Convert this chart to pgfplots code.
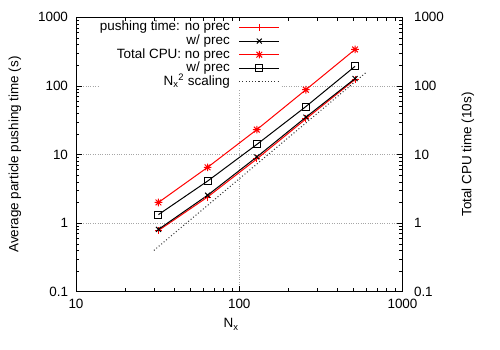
\documentclass[border=0pt]{standalone}
\usepackage{pgfplots}
\pgfplotsset{compat=1.18}
\usepackage{fontspec}
\setmainfont{Liberation Sans}
\pgfdeclareplotmark{star8}{%
  \pgfpathmoveto{\pgfqpoint{-\pgfplotmarksize}{0pt}}\pgfpathlineto{\pgfqpoint{\pgfplotmarksize}{0pt}}%
  \pgfpathmoveto{\pgfqpoint{0pt}{-\pgfplotmarksize}}\pgfpathlineto{\pgfqpoint{0pt}{\pgfplotmarksize}}%
  \pgfpathmoveto{\pgfqpoint{-.75\pgfplotmarksize}{-.75\pgfplotmarksize}}\pgfpathlineto{\pgfqpoint{.75\pgfplotmarksize}{.75\pgfplotmarksize}}%
  \pgfpathmoveto{\pgfqpoint{-.75\pgfplotmarksize}{.75\pgfplotmarksize}}\pgfpathlineto{\pgfqpoint{.75\pgfplotmarksize}{-.75\pgfplotmarksize}}%
  \pgfusepathqstroke}
\begin{document}
\begin{tikzpicture}
\useasboundingbox (0bp,0bp) rectangle (500bp,350bp);
\begin{axis}[
  at={(76bp,58.3bp)}, anchor=south west,
  width=326.5bp, height=274.4bp, scale only axis,
  xmode=log, ymode=log, xmin=10, xmax=1000, ymin=0.1, ymax=1000,
  log ticks with fixed point,
  /pgf/number format/1000 sep={},
  /pgf/number format/assume math mode=true,
  tick label style={font=\fontsize{13.5}{16}\selectfont},
  every axis label/.append style={font=\fontsize{13.5}{16}\selectfont},
  major tick length=6bp, minor tick length=3.5bp,
  every tick/.append style={black, line width=0.5bp},
  every outer x axis line/.append style={line width=0.8bp},
  every outer y axis line/.append style={line width=0.8bp},
  tick align=inside,
  grid=major, major grid style={gray!70, dotted, line width=0.6bp},
  xticklabel style={yshift=-4bp},
  yticklabel style={xshift=-4.5bp},
  xlabel={N\textsubscript{x}},
  ylabel={Average particle pushing time (s)},
  xlabel style={at={(axis description cs:0.475,-0.132)}, anchor=base},
  ylabel style={at={(axis description cs:-0.187,0.5)}, anchor=center},
  legend plot pos=right,
  legend cell align=right,
  legend image code/.code={\draw[mark repeat=2,mark phase=2,#1] plot coordinates {(0bp,0bp) (20bp,0bp) (40bp,0bp)};},
  legend style={at={(axis description cs:0.6248,0.9884)}, anchor=north east,
    fill=white, draw=none, inner sep=0bp, column sep=9bp, row sep=0bp,
    font=\fontsize{13.5}{16}\selectfont,
    nodes={inner sep=0bp, text height=10.2bp, text depth=3.4bp}},
]
\addplot[color=red, line width=1bp, mark=+, mark size=3.5bp, mark options={solid}] coordinates {
  (32,0.78) (64,2.4) (128,8.6) (256,33) (512,124)};
\addlegendentry{pushing time: no prec}
\addplot[color=black, line width=1bp, mark=x, mark size=3.5bp, mark options={solid}] coordinates {
  (32,0.81) (64,2.55) (128,9.2) (256,35) (512,128)};
\addlegendentry{w/ prec}
\addplot[color=red, line width=1bp, mark=star8, mark size=3.8bp, mark options={solid}] coordinates {
  (32,2.0) (64,6.5) (128,23) (256,88) (512,340)};
\addlegendentry{Total CPU: no prec}
\addplot[color=black, line width=1bp, mark=square, mark size=3.5bp, mark options={solid}] coordinates {
  (32,1.33) (64,4.1) (128,14) (256,50) (512,193)};
\addlegendentry{w/ prec}
\addplot[color=black!80, line width=1bp, dash pattern=on 1bp off 2.2bp] coordinates {
  (30,0.40) (600,158)};
\addlegendentry{N\textsubscript{x}\textsuperscript{2} scaling}
\end{axis}
\begin{axis}[
  at={(76bp,58.3bp)}, anchor=south west,
  width=326.5bp, height=274.4bp, scale only axis,
  xmode=log, ymode=log, xmin=10, xmax=1000, ymin=0.1, ymax=1000,
  log ticks with fixed point,
  /pgf/number format/1000 sep={},
  /pgf/number format/assume math mode=true,
  tick label style={font=\fontsize{13.5}{16}\selectfont},
  every axis label/.append style={font=\fontsize{13.5}{16}\selectfont},
  major tick length=6bp, minor tick length=3.5bp,
  every tick/.append style={black, line width=0.5bp},
  tick align=inside,
  hide x axis,
  yticklabel pos=right,
  yticklabel style={xshift=8bp},
  ylabel={Total CPU time (10s)},
  ylabel style={at={(axis description cs:1.2006,0.5)}, anchor=center},
]
\addplot[draw=none] coordinates {(100,1)};
\end{axis}
\end{tikzpicture}
\end{document}
